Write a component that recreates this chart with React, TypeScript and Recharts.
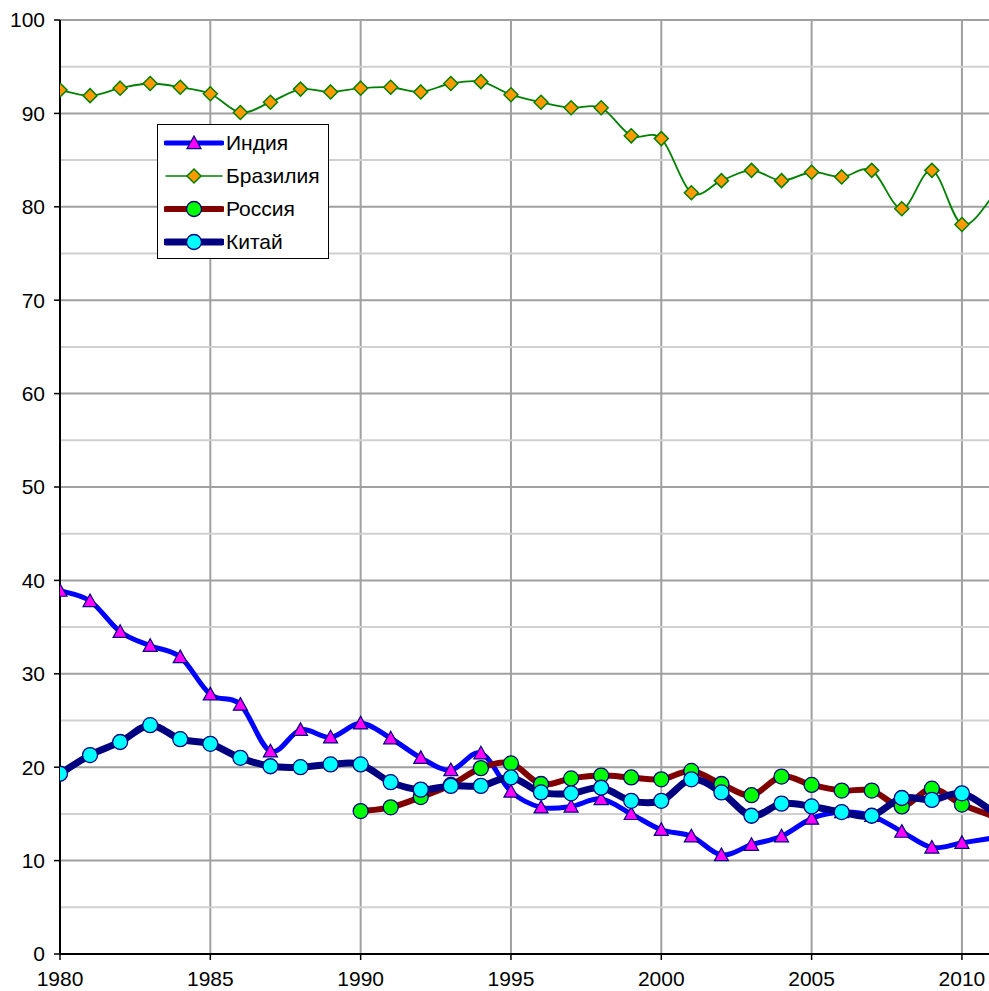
import { LineChart, Line, XAxis, YAxis, CartesianGrid, ReferenceLine } from "recharts";

const years = [
  1980, 1981, 1982, 1983, 1984, 1985, 1986, 1987, 1988, 1989,
  1990, 1991, 1992, 1993, 1994, 1995, 1996, 1997, 1998, 1999,
  2000, 2001, 2002, 2003, 2004, 2005, 2006, 2007, 2008, 2009,
  2010, 2011,
];

const india = [
  38.9, 37.8, 34.5, 33.0, 31.8, 27.8, 26.7, 21.7, 24.0, 23.2,
  24.7, 23.1, 21.0, 19.7, 21.5, 17.4, 15.7, 15.8, 16.6, 15.0,
  13.3, 12.6, 10.6, 11.7, 12.6, 14.5, 15.2, 14.8, 13.1, 11.4,
  11.9, 12.4,
];

const brazil = [
  92.5, 91.9, 92.7, 93.2, 92.8, 92.1, 90.1, 91.2, 92.6, 92.3,
  92.7, 92.8, 92.3, 93.2, 93.4, 92.0, 91.2, 90.6, 90.6, 87.6,
  87.3, 81.5, 82.8, 83.9, 82.8, 83.7, 83.2, 83.9, 79.8, 83.9,
  78.1, 81.0,
];

const russia = [
  null, null, null, null, null, null, null, null, null, null,
  15.3, 15.7, 16.8, 18.1, 19.9, 20.4, 18.2, 18.8, 19.1, 18.9,
  18.7, 19.6, 18.2, 17.0, 19.0, 18.1, 17.5, 17.5, 15.8, 17.7,
  16.0, 14.8,
];

const china = [
  19.3, 21.3, 22.7, 24.5, 23.0, 22.5, 21.0, 20.1, 20.0, 20.3,
  20.3, 18.4, 17.6, 18.0, 18.0, 18.9, 17.3, 17.2, 17.8, 16.4,
  16.4, 18.7, 17.3, 14.8, 16.1, 15.8, 15.2, 14.8, 16.7, 16.5,
  17.2, 15.3,
];

const xTicks = [1980, 1985, 1990, 1995, 2000, 2005, 2010];
const yTicks = [0, 10, 20, 30, 40, 50, 60, 70, 80, 90, 100];
const minorY = [5, 15, 25, 35, 45, 55, 65, 75, 85, 95];

const data = years.map((year, i) => ({
  year,
  india: india[i],
  brazil: brazil[i],
  russia: russia[i],
  china: china[i],
}));

const FONT = '"Liberation Sans", Arial, sans-serif';
const NAVY = "#000080";

// Excel-like smoothed line (Catmull-Rom segments)
function smoothCurve(context: any) {
  let pts: number[][] = [];
  return {
    areaStart() {},
    areaEnd() {},
    lineStart() {
      pts = [];
    },
    point(x: number, y: number) {
      pts.push([+x, +y]);
    },
    lineEnd() {
      if (!pts.length) return;
      context.moveTo(pts[0][0], pts[0][1]);
      for (let i = 0; i < pts.length - 1; i++) {
        const p0 = pts[i - 1] || pts[i];
        const p1 = pts[i];
        const p2 = pts[i + 1];
        const p3 = pts[i + 2] || p2;
        context.bezierCurveTo(
          p1[0] + (p2[0] - p0[0]) / 6, p1[1] + (p2[1] - p0[1]) / 6,
          p2[0] - (p3[0] - p1[0]) / 6, p2[1] - (p3[1] - p1[1]) / 6,
          p2[0], p2[1]
        );
      }
    },
  };
}

function Triangle({ cx, cy, size = 7 }: { cx: number; cy: number; size?: number }) {
  return (
    <path
      d={`M${cx},${cy - size} L${cx + size},${cy + size * 0.8} L${cx - size},${cy + size * 0.8} Z`}
      fill="#ff00ff"
      stroke={NAVY}
      strokeWidth={1.2}
    />
  );
}

function Diamond({ cx, cy, size = 7 }: { cx: number; cy: number; size?: number }) {
  return (
    <path
      d={`M${cx},${cy - size} L${cx + size},${cy} L${cx},${cy + size} L${cx - size},${cy} Z`}
      fill="#ff9900"
      stroke="#008000"
      strokeWidth={1.5}
    />
  );
}

function Circle({ cx, cy, fill }: { cx: number; cy: number; fill: string }) {
  return <circle cx={cx} cy={cy} r={7.5} fill={fill} stroke={NAVY} strokeWidth={1.3} />;
}

function makeDot(kind: string) {
  return (props: any) => {
    const { cx, cy, index, payload, value } = props;
    if (value == null || cy == null || payload.year > 2010) return <g key={index} />;
    if (kind === "tri") return <Triangle key={index} cx={cx} cy={cy} />;
    if (kind === "dia") return <Diamond key={index} cx={cx} cy={cy} />;
    return <Circle key={index} cx={cx} cy={cy} fill={kind} />;
  };
}

const legendItems = [
  { name: "Индия", color: "#0000ff", width: 5, kind: "tri" },
  { name: "Бразилия", color: "#008000", width: 1.5, kind: "dia" },
  { name: "Россия", color: "#800000", width: 6, kind: "#00ff00" },
  { name: "Китай", color: NAVY, width: 7, kind: "#00ffff" },
];

function LegendBox() {
  return (
    <div
      style={{
        position: "absolute",
        left: 157,
        top: 124,
        width: 170,
        height: 133,
        border: "1px solid #000",
        background: "#fff",
        fontFamily: FONT,
        fontSize: 21,
      }}
    >
      {legendItems.map((it, i) => (
        <div
          key={it.name}
          style={{ position: "absolute", left: 6, top: 3 + i * 33, height: 30, display: "flex", alignItems: "center" }}
        >
          <svg width={60} height={30}>
            <line x1={2} x2={58} y1={15} y2={15} stroke={it.color} strokeWidth={it.width} strokeLinecap="round" />
            {it.kind === "tri" ? (
              <Triangle cx={30} cy={15} />
            ) : it.kind === "dia" ? (
              <Diamond cx={30} cy={15} />
            ) : (
              <Circle cx={30} cy={15} fill={it.kind} />
            )}
          </svg>
          <span style={{ marginLeft: 2, color: "#000" }}>{it.name}</span>
        </div>
      ))}
    </div>
  );
}

export default function App() {
  return (
    <div
      style={{
        position: "absolute",
        left: 0,
        top: 0,
        width: 989,
        height: 991,
        overflow: "hidden",
        background: "#fff",
      }}
    >
      <LineChart
        width={992}
        height={991}
        data={data}
        margin={{ top: 20, right: 0, left: 0, bottom: 0 }}
      >
        {minorY.map((v) => (
          <ReferenceLine key={v} y={v} stroke="#d0d0d0" strokeWidth={2} />
        ))}
        <CartesianGrid stroke="#a0a0a0" strokeWidth={2} />
        <XAxis
          dataKey="year"
          type="number"
          domain={[1980, 2011]}
          ticks={xTicks}
          allowDataOverflow
          height={37}
          tickSize={6}
          tickMargin={11}
          axisLine={{ stroke: "#000", strokeWidth: 2 }}
          tickLine={{ stroke: "#000", strokeWidth: 1.5 }}
          tick={{ fill: "#000", fontSize: 21, fontFamily: FONT }}
        />
        <YAxis
          type="number"
          domain={[0, 100]}
          ticks={yTicks}
          width={60}
          tickSize={6}
          tickMargin={9}
          axisLine={{ stroke: "#000", strokeWidth: 2 }}
          tickLine={{ stroke: "#000", strokeWidth: 1.5 }}
          tick={{ fill: "#000", fontSize: 21, fontFamily: FONT }}
        />
        <Line
          dataKey="india"
          type={smoothCurve as any}
          stroke="#0000ff"
          strokeWidth={5}
          dot={makeDot("tri")}
          isAnimationActive={false}
        />
        <Line
          dataKey="brazil"
          type={smoothCurve as any}
          stroke="#008000"
          strokeWidth={1.8}
          dot={makeDot("dia")}
          isAnimationActive={false}
        />
        <Line
          dataKey="russia"
          type={smoothCurve as any}
          stroke="#800000"
          strokeWidth={6}
          dot={makeDot("#00ff00")}
          isAnimationActive={false}
        />
        <Line
          dataKey="china"
          type={smoothCurve as any}
          stroke={NAVY}
          strokeWidth={7}
          dot={makeDot("#00ffff")}
          isAnimationActive={false}
        />
      </LineChart>
      <LegendBox />
    </div>
  );
}
